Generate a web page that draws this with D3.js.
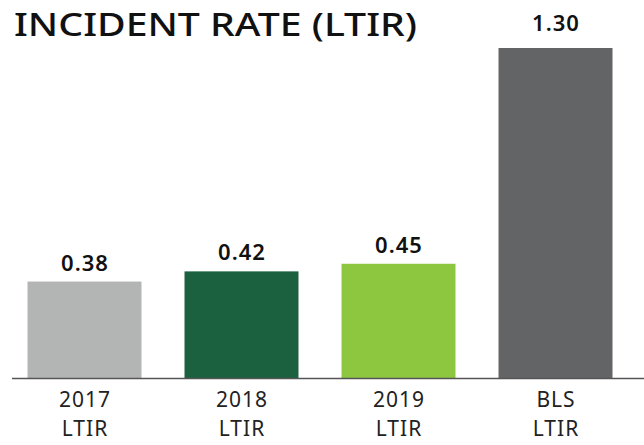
<!DOCTYPE html>
<meta charset="utf-8">
<head>
<style>
body { margin: 0; background: #fff; }
text { font-family: "Noto Sans", Lato, sans-serif; }
</style>
</head>
<body>
<svg width="644" height="445"></svg>
<script src="https://d3js.org/d3.v7.min.js"></script>
<script>
// chart data
const categories = ['2017', '2018', '2019', 'BLS'];
const subLabels = ['LTIR', 'LTIR', 'LTIR', 'LTIR'];
const values = [0.38, 0.42, 0.45, 1.30];
const barColors = ['#b3b5b4', '#1b6140', '#8dc63f', '#636466'];
const title = 'INCIDENT RATE (LTIR)';

let svg = d3.select('svg');

let x = d3.scaleBand()
    .domain(categories)
    .range([6, 634])
    .paddingInner(0.274)
    .paddingOuter(0.137);

let y = d3.scaleLinear()
    .domain([0, 1.30])
    .range([378, 48]);

let maxVal = d3.max(values);

// title
svg.append('text')
    .attr('x', 14)
    .attr('y', 36)
    .attr('font-size', 33)
    .attr('font-weight', 500)
    .attr('fill', '#111')
    .attr('textLength', 403)
    .attr('lengthAdjust', 'spacingAndGlyphs')
    .text(title);

// bars
svg.selectAll('.bar')
    .data(values)
    .enter().append('rect')
        .attr('class', 'bar')
        .attr('x', (d, i) => x(categories[i]))
        .attr('y', (d) => y(d))
        .attr('width', x.bandwidth())
        .attr('height', (d) => y(0) - y(d))
        .attr('fill', (d, i) => barColors[i]);

// value labels (the tallest one sits a bit higher)
svg.selectAll('.val')
    .data(values)
    .enter().append('text')
        .attr('class', 'val')
        .attr('x', (d, i) => x(categories[i]) + x.bandwidth() / 2 + 0.5)
        .attr('y', (d) => y(d) - (d === maxVal ? 17 : 11))
        .attr('text-anchor', 'middle')
        .attr('font-size', 22)
        .attr('font-weight', 600)
        .attr('letter-spacing', 1)
        .attr('fill', '#111')
        .text((d) => d.toFixed(2));

// baseline
svg.append('line')
    .attr('x1', 12)
    .attr('x2', 644)
    .attr('y1', y(0) + 0.5)
    .attr('y2', y(0) + 0.5)
    .attr('stroke', '#555')
    .attr('stroke-width', 1.5);

// category labels (two lines)
let cats = svg.selectAll('.cat')
    .data(categories)
    .enter().append('text')
        .attr('class', 'cat')
        .attr('text-anchor', 'middle')
        .attr('font-size', 21)
        .attr('letter-spacing', 1)
        .attr('fill', '#222');

cats.append('tspan')
    .attr('x', (d) => x(d) + x.bandwidth() / 2 + 0.5)
    .attr('y', 407)
    .text((d) => d);

cats.append('tspan')
    .attr('x', (d) => x(d) + x.bandwidth() / 2 + 0.5)
    .attr('y', 436)
    .text((d, i) => subLabels[i]);
</script>
</body>
</html>
